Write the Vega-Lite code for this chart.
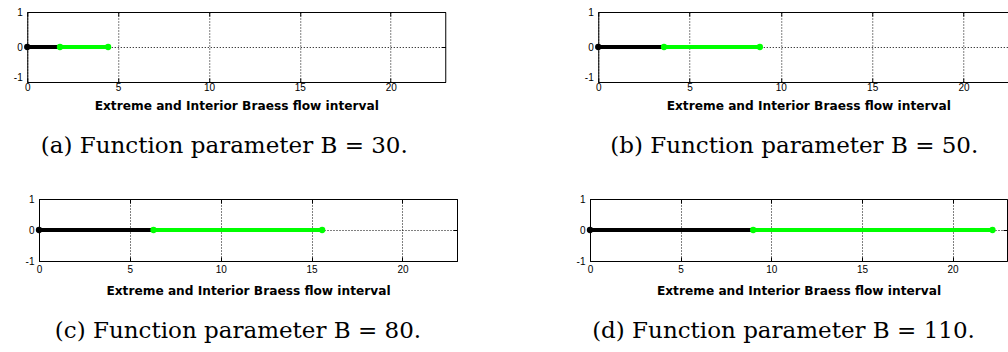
{
  "$schema": "https://vega.github.io/schema/vega-lite/v6.json",
  "background": "white",
  "padding": {"left": 0, "top": 6, "right": 0, "bottom": 0},
  "data": {
    "values": [
      {"panel": "a", "series": "extreme", "x": 0},
      {"panel": "a", "series": "extreme", "x": 1.8},
      {"panel": "a", "series": "interior", "x": 1.8},
      {"panel": "a", "series": "interior", "x": 4.45},
      {"panel": "b", "series": "extreme", "x": 0},
      {"panel": "b", "series": "extreme", "x": 3.6},
      {"panel": "b", "series": "interior", "x": 3.6},
      {"panel": "b", "series": "interior", "x": 8.85},
      {"panel": "c", "series": "extreme", "x": 0},
      {"panel": "c", "series": "extreme", "x": 6.3},
      {"panel": "c", "series": "interior", "x": 6.3},
      {"panel": "c", "series": "interior", "x": 15.58},
      {"panel": "d", "series": "extreme", "x": 0},
      {"panel": "d", "series": "extreme", "x": 9.0},
      {"panel": "d", "series": "interior", "x": 9.0},
      {"panel": "d", "series": "interior", "x": 22.2}
    ]
  },
  "config": {
    "view": {"stroke": "#000000", "strokeWidth": 1},
    "axis": {
      "labelFont": "Liberation Sans",
      "labelFontSize": 10,
      "labelColor": "#000000",
      "labelFlush": false,
      "domain": false,
      "tickColor": "#000000",
      "tickSize": -4,
      "gridColor": "#000000",
      "gridDash": [1, 2],
      "gridOpacity": 1,
      "gridWidth": 1,
      "titleFont": "DejaVu Sans",
      "titleFontSize": 12.2,
      "titleFontWeight": "bold",
      "titleColor": "#000000"
    },
    "title": {
      "orient": "bottom",
      "font": "DejaVu Serif",
      "fontSize": 23,
      "fontWeight": "normal",
      "color": "#000000",
      "frame": "group",
      "offset": 24
    }
  },
  "center": true,
  "spacing": 34,
  "vconcat": [
    {
      "spacing": 125,
      "hconcat": [
        {
          "width": 418,
          "height": 70,
          "title": {"text": "(a) Function parameter B = 30.", "dx": -12},
          "transform": [{"filter": "datum.panel == 'a'"}],
          "layer": [
            {
              "mark": {"type": "line", "strokeWidth": 4},
              "encoding": {
                "x": {"field": "x", "type": "quantitative", "scale": {"domain": [0, 23], "nice": false},
                  "axis": {"orient": "bottom", "values": [0, 5, 10, 15, 20], "labelExpr": "'' + datum.value", "labelPadding": 4, "grid": true,
                    "title": "Extreme and Interior Braess flow interval", "titlePadding": 7}},
                "y": {"datum": 0, "type": "quantitative", "scale": {"domain": [-1, 1], "nice": false},
                  "axis": {"orient": "left", "values": [-1, 0, 1], "labelExpr": "'' + datum.value", "labelPadding": 9, "grid": true, "title": null, "minExtent": 26, "maxExtent": 26,
                    "labelBaseline": {"condition": {"test": "datum.value == -1", "value": "bottom"}, "value": "middle"}}},
                "color": {"field": "series", "type": "nominal", "scale": {"domain": ["extreme", "interior"], "range": ["#000000", "#00ff00"]}, "legend": null}
              }
            },
            {
              "transform": [{"filter": "datum.series == 'interior' || datum.x == 0"}],
              "mark": {"type": "point", "filled": true, "opacity": 1},
              "encoding": {
                "x": {"field": "x", "type": "quantitative", "axis": {"orient": "top", "values": [0, 5, 10, 15, 20], "labels": false, "grid": false, "title": null}},
                "y": {"datum": 0, "type": "quantitative", "axis": {"orient": "right", "values": [-1, 0, 1], "labels": false, "grid": false, "title": null, "minExtent": 0, "maxExtent": 0}},
                "color": {"field": "series", "type": "nominal", "legend": null},
                "size": {"value": 40}
              }
            }
          ],
          "resolve": {"axis": {"x": "independent", "y": "independent"}}
        },
        {
          "width": 420,
          "height": 70,
          "title": {"text": "(b) Function parameter B = 50.", "dx": -14},
          "transform": [{"filter": "datum.panel == 'b'"}],
          "layer": [
            {
              "mark": {"type": "line", "strokeWidth": 4},
              "encoding": {
                "x": {"field": "x", "type": "quantitative", "scale": {"domain": [0, 23], "nice": false},
                  "axis": {"orient": "bottom", "values": [0, 5, 10, 15, 20], "labelExpr": "'' + datum.value", "labelPadding": 4, "grid": true,
                    "title": "Extreme and Interior Braess flow interval", "titlePadding": 7}},
                "y": {"datum": 0, "type": "quantitative", "scale": {"domain": [-1, 1], "nice": false},
                  "axis": {"orient": "left", "values": [-1, 0, 1], "labelExpr": "'' + datum.value", "labelPadding": 9, "grid": true, "title": null, "minExtent": 26, "maxExtent": 26,
                    "labelBaseline": {"condition": {"test": "datum.value == -1", "value": "bottom"}, "value": "middle"}}},
                "color": {"field": "series", "type": "nominal", "scale": {"domain": ["extreme", "interior"], "range": ["#000000", "#00ff00"]}, "legend": null}
              }
            },
            {
              "transform": [{"filter": "datum.series == 'interior' || datum.x == 0"}],
              "mark": {"type": "point", "filled": true, "opacity": 1},
              "encoding": {
                "x": {"field": "x", "type": "quantitative", "axis": {"orient": "top", "values": [0, 5, 10, 15, 20], "labels": false, "grid": false, "title": null}},
                "y": {"datum": 0, "type": "quantitative", "axis": {"orient": "right", "values": [-1, 0, 1], "labels": false, "grid": false, "title": null, "minExtent": 1, "maxExtent": 1}},
                "color": {"field": "series", "type": "nominal", "legend": null},
                "size": {"value": 40}
              }
            }
          ],
          "resolve": {"axis": {"x": "independent", "y": "independent"}}
        }
      ]
    },
    {
      "spacing": 93,
      "hconcat": [
        {
          "width": 418,
          "height": 62,
          "title": {"text": "(c) Function parameter B = 80.", "dx": -10},
          "transform": [{"filter": "datum.panel == 'c'"}],
          "layer": [
            {
              "mark": {"type": "line", "strokeWidth": 4},
              "encoding": {
                "x": {"field": "x", "type": "quantitative", "scale": {"domain": [0, 23], "nice": false},
                  "axis": {"orient": "bottom", "values": [0, 5, 10, 15, 20], "labelExpr": "'' + datum.value", "labelPadding": 7, "grid": true,
                    "title": "Extreme and Interior Braess flow interval", "titlePadding": 10}},
                "y": {"datum": 0, "type": "quantitative", "scale": {"domain": [-1, 1], "nice": false},
                  "axis": {"orient": "left", "values": [-1, 0, 1], "labelExpr": "'' + datum.value", "labelPadding": 9, "grid": true, "title": null, "minExtent": 38, "maxExtent": 38}},
                "color": {"field": "series", "type": "nominal", "scale": {"domain": ["extreme", "interior"], "range": ["#000000", "#00ff00"]}, "legend": null}
              }
            },
            {
              "transform": [{"filter": "datum.series == 'interior' || datum.x == 0"}],
              "mark": {"type": "point", "filled": true, "opacity": 1},
              "encoding": {
                "x": {"field": "x", "type": "quantitative", "axis": {"orient": "top", "values": [0, 5, 10, 15, 20], "labels": false, "grid": false, "title": null}},
                "y": {"datum": 0, "type": "quantitative", "axis": {"orient": "right", "values": [-1, 0, 1], "labels": false, "grid": false, "title": null, "minExtent": 0, "maxExtent": 0}},
                "color": {"field": "series", "type": "nominal", "legend": null},
                "size": {"value": 40}
              }
            }
          ],
          "resolve": {"axis": {"x": "independent", "y": "independent"}}
        },
        {
          "width": 417,
          "height": 62,
          "title": {"text": "(d) Function parameter B = 110.", "dx": -15},
          "transform": [{"filter": "datum.panel == 'd'"}],
          "layer": [
            {
              "mark": {"type": "line", "strokeWidth": 4},
              "encoding": {
                "x": {"field": "x", "type": "quantitative", "scale": {"domain": [0, 23], "nice": false},
                  "axis": {"orient": "bottom", "values": [0, 5, 10, 15, 20], "labelExpr": "'' + datum.value", "labelPadding": 7, "grid": true,
                    "title": "Extreme and Interior Braess flow interval", "titlePadding": 10}},
                "y": {"datum": 0, "type": "quantitative", "scale": {"domain": [-1, 1], "nice": false},
                  "axis": {"orient": "left", "values": [-1, 0, 1], "labelExpr": "'' + datum.value", "labelPadding": 9, "grid": true, "title": null, "minExtent": 38, "maxExtent": 38}},
                "color": {"field": "series", "type": "nominal", "scale": {"domain": ["extreme", "interior"], "range": ["#000000", "#00ff00"]}, "legend": null}
              }
            },
            {
              "transform": [{"filter": "datum.series == 'interior' || datum.x == 0"}],
              "mark": {"type": "point", "filled": true, "opacity": 1},
              "encoding": {
                "x": {"field": "x", "type": "quantitative", "axis": {"orient": "top", "values": [0, 5, 10, 15, 20], "labels": false, "grid": false, "title": null}},
                "y": {"datum": 0, "type": "quantitative", "axis": {"orient": "right", "values": [-1, 0, 1], "labels": false, "grid": false, "title": null, "minExtent": 0, "maxExtent": 0}},
                "color": {"field": "series", "type": "nominal", "legend": null},
                "size": {"value": 40}
              }
            }
          ],
          "resolve": {"axis": {"x": "independent", "y": "independent"}}
        }
      ]
    }
  ]
}
